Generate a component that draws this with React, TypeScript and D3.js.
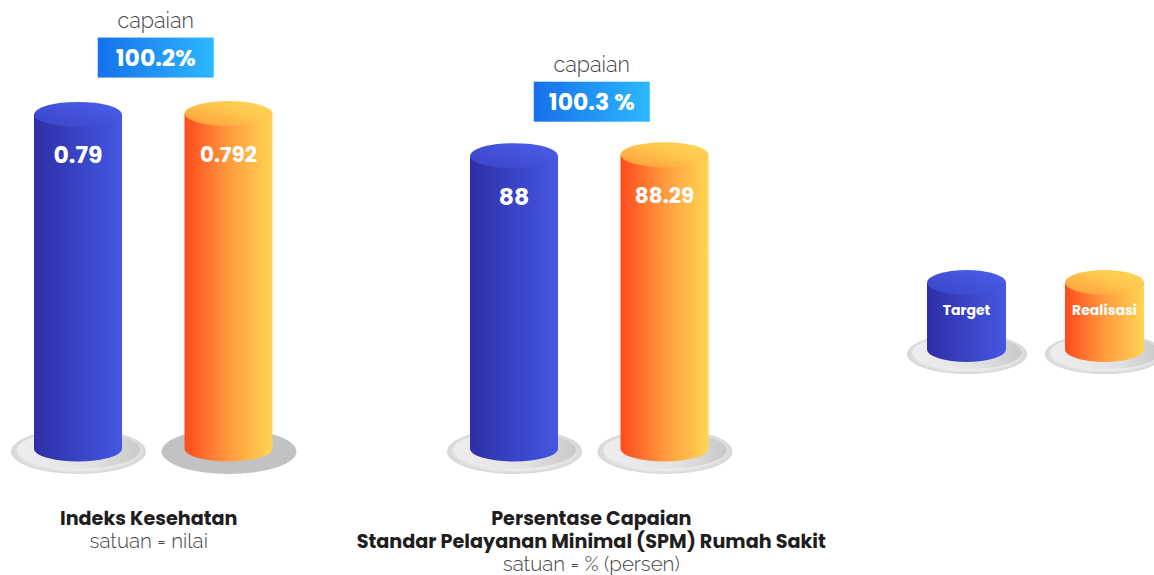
import React from "react";
import * as d3 from "d3";

const groupTitles: string[][] = [
  ["Indeks Kesehatan"],
  ["Persentase Capaian", "Standar Pelayanan Minimal (SPM) Rumah Sakit"],
];
const groupUnits = ["satuan = nilai", "satuan = % (persen)"];
const targetValues = [0.79, 88];
const realisasiValues = [0.792, 88.29];
const targetLabels = ["0.79", "88"];
const realisasiLabels = ["0.792", "88.29"];
const capaianLabels = ["100.2%", "100.3 %"];
const scaleMax = [0.85, 108];
const legendLabels = ["Target", "Realisasi"];
const flatBase = [[false, true], [false, false]];

const W = 1154;
const H = 575;
const BASE_Y = 449;
const BAR_RANGE = 360;
const RX = 44;
const RY = 12.5;
const NUM_FONT = "Poppins, Inter, 'Open Sans', sans-serif";
const LIGHT_FONT = "Raleway, Lato, 'Open Sans', sans-serif";
const titleShift = [-4.5, 2];
const boxGap = [36, 33];

function Disc({ cx, cy, rx, ry, flat }: { cx: number; cy: number; rx: number; ry: number; flat?: boolean }) {
  if (flat) return <ellipse cx={cx} cy={cy} rx={rx} ry={ry} fill="#c2c2c2" />;
  return (
    <g>
      <ellipse cx={cx} cy={cy} rx={rx} ry={ry} fill="url(#discOuter)" />
      <ellipse cx={cx} cy={cy - 1.5} rx={rx * 0.91} ry={ry * 0.84} fill="url(#discInner)" />
    </g>
  );
}

function Cylinder({ cx, top, bottom, rx, ry, kind }: { cx: number; top: number; bottom: number; rx: number; ry: number; kind: "b" | "o" }) {
  const body = `M${cx - rx},${top} L${cx - rx},${bottom} A${rx},${ry} 0 0 0 ${cx + rx},${bottom} L${cx + rx},${top} Z`;
  return (
    <g>
      <path d={body} fill={`url(#${kind}Body)`} />
      <ellipse cx={cx} cy={top} rx={rx} ry={ry} fill={`url(#${kind}Top)`} />
    </g>
  );
}

export default function App() {
  const groupX = d3.scaleLinear().domain([0, 1]).range([78, 514]);
  const pairGap = 150.5;

  return (
    <svg width={W} height={H} style={{ position: "absolute", left: 0, top: 0 }} xmlns="http://www.w3.org/2000/svg">
      <defs>
        <linearGradient id="bBody" x1="0" x2="1" y1="0" y2="0">
          <stop offset="0%" stopColor="#2e2ea6" />
          <stop offset="100%" stopColor="#4458e2" />
        </linearGradient>
        <linearGradient id="bTop" x1="0" x2="1" y1="1" y2="0">
          <stop offset="0%" stopColor="#3a44c8" />
          <stop offset="100%" stopColor="#4b5fea" />
        </linearGradient>
        <linearGradient id="oBody" x1="0" x2="1" y1="0" y2="0">
          <stop offset="0%" stopColor="#ff4a1c" />
          <stop offset="50%" stopColor="#ff9a3e" />
          <stop offset="100%" stopColor="#ffd552" />
        </linearGradient>
        <linearGradient id="oTop" x1="0" x2="1" y1="1" y2="0">
          <stop offset="0%" stopColor="#ff9a3a" />
          <stop offset="60%" stopColor="#ffc84e" />
          <stop offset="100%" stopColor="#ffd854" />
        </linearGradient>
        <radialGradient id="discOuter" cx="0.5" cy="0.5" r="0.5">
          <stop offset="0%" stopColor="#ffffff" />
          <stop offset="75%" stopColor="#f3f3f3" />
          <stop offset="100%" stopColor="#d5d5d5" />
        </radialGradient>
        <linearGradient id="discInner" x1="0" x2="1" y1="0" y2="0">
          <stop offset="0%" stopColor="#eeeeee" />
          <stop offset="60%" stopColor="#e2e2e2" />
          <stop offset="100%" stopColor="#c9c9c9" />
        </linearGradient>
        <linearGradient id="capBox" x1="0" x2="1" y1="0" y2="0">
          <stop offset="0%" stopColor="#1670ea" />
          <stop offset="100%" stopColor="#2cb8ff" />
        </linearGradient>
      </defs>

      {targetValues.map((tv, i) => {
        const y = d3.scaleLinear().domain([0, scaleMax[i]]).range([0, BAR_RANGE]);
        const x0 = groupX(i);
        const x1 = x0 + pairGap;
        const tTop = BASE_Y - y(tv);
        const rTop = BASE_Y - y(realisasiValues[i]);
        const mid = (x0 + x1) / 2 + 2.5;
        const boxBottom = Math.min(tTop, rTop) - boxGap[i];
        const boxW = 116;
        const boxH = 40;
        const tx = (x0 + x1) / 2 + titleShift[i];
        return (
          <g key={i}>
            <Disc cx={x0 + 0.5} cy={BASE_Y + 2.5} rx={67.5} ry={22.5} flat={flatBase[i][0]} />
            <Disc cx={x1 + 0.5} cy={BASE_Y + 2.5} rx={67.5} ry={22.5} flat={flatBase[i][1]} />
            <Cylinder cx={x0} top={tTop} bottom={BASE_Y} rx={RX} ry={RY} kind="b" />
            <Cylinder cx={x1} top={rTop} bottom={BASE_Y} rx={RX} ry={RY} kind="o" />
            <text x={x0} y={tTop + 49} textAnchor="middle" fill="#fff" fontFamily={NUM_FONT} fontWeight={700} fontSize={23.5}>
              {targetLabels[i]}
            </text>
            <text x={x1} y={rTop + 48} textAnchor="middle" fill="#fff" fontFamily={NUM_FONT} fontWeight={700} fontSize={21.5}>
              {realisasiLabels[i]}
            </text>
            <rect x={mid - boxW / 2} y={boxBottom - boxH} width={boxW} height={boxH} fill="url(#capBox)" />
            <text x={mid} y={boxBottom - boxH / 2 + 8.5} textAnchor="middle" fill="#fff" fontFamily={NUM_FONT} fontWeight={700} fontSize={23.5}>
              {capaianLabels[i]}
            </text>
            <text x={mid} y={boxBottom - boxH - 10} textAnchor="middle" fill="#444" fontFamily={LIGHT_FONT} fontWeight={300} fontSize={21.5}>
              capaian
            </text>
            {groupTitles[i].map((t, j) => (
              <text key={j} x={tx} y={525 + j * 23} textAnchor="middle" fill="#1e1e1e" fontFamily={NUM_FONT} fontWeight={700} fontSize={19.2}>
                {t}
              </text>
            ))}
            <text x={tx} y={525 + groupTitles[i].length * 23} textAnchor="middle" fill="#444" fontFamily={LIGHT_FONT} fontWeight={300} fontSize={20.5}>
              {groupUnits[i]}
            </text>
          </g>
        );
      })}

      {legendLabels.map((l, i) => {
        const cx = 966.5 + i * 138;
        return (
          <g key={l}>
            <Disc cx={cx + 0.5} cy={354} rx={60} ry={20} />
            <Cylinder cx={cx} top={282.5} bottom={349.5} rx={39.5} ry={12.5} kind={i === 0 ? "b" : "o"} />
            <text x={cx} y={315} textAnchor="middle" fill="#fff" fontFamily={NUM_FONT} fontWeight={700} fontSize={14}>
              {l}
            </text>
          </g>
        );
      })}
    </svg>
  );
}
